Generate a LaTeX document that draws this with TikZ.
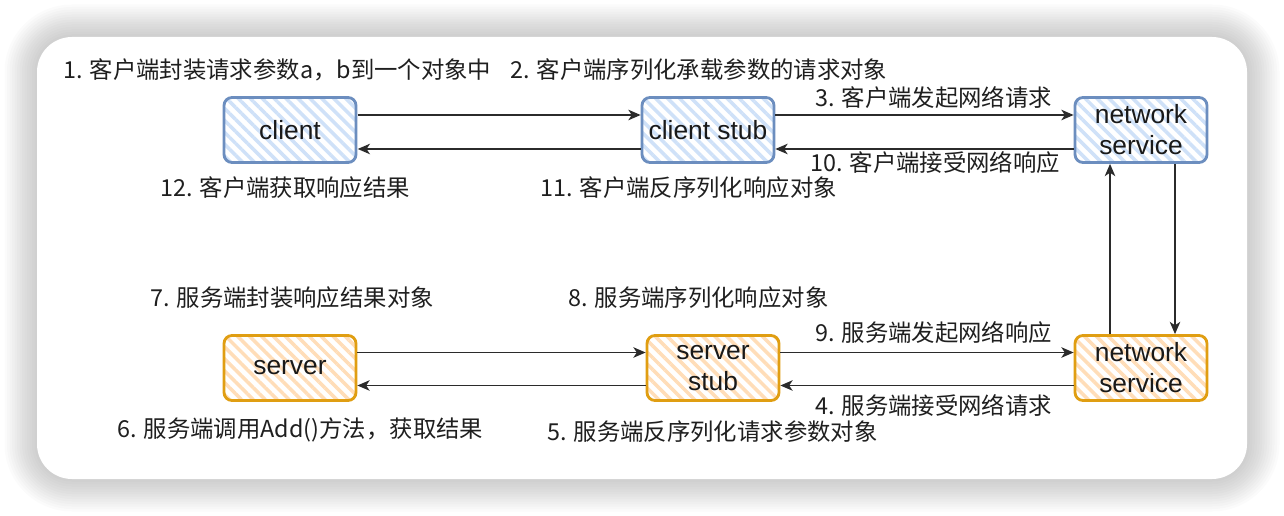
\documentclass[tikz,border=0pt]{standalone}
\usepackage{fontspec}
\setmainfont{Liberation Sans}
\newfontfamily\cjk{Noto Sans CJK SC}
\usetikzlibrary{patterns.meta,arrows.meta}

\definecolor{cliline}{HTML}{6C8EBF}
\definecolor{clifill}{HTML}{CFE1F8}
\definecolor{srvline}{HTML}{E09E12}
\definecolor{srvfill}{HTML}{FFDDB8}
\definecolor{arrcol}{HTML}{2B2B2B}

\tikzset{
  box/.style={rounded corners=0.16cm, line width=1.6pt, minimum width=2.64cm,
    minimum height=1.3cm, align=center, font=\fontsize{15}{17.6}\selectfont,
    text=black!90, inner sep=0pt},
  clibox/.style={box, draw=cliline,
    pattern={Lines[angle=-45,distance=4.8pt,line width=2pt]}, pattern color=clifill},
  srvbox/.style={box, draw=srvline,
    pattern={Lines[angle=-45,distance=4.8pt,line width=2pt]}, pattern color=srvfill},
  arr/.style={draw=arrcol, line width=0.7pt, -{Stealth[length=7pt,width=6pt,inset=2pt]}},
  lbl/.style={anchor=west, inner sep=0pt, font=\cjk\fontsize{13.3}{14}\selectfont, text=black!88}
}

\begin{document}
\begin{tikzpicture}[x=0.02cm, y=-0.02cm]
  \useasboundingbox (0,0) rectangle (1284,516);

  % soft shadow round the card
  \foreach \i in {0,...,13}
    \fill[black, opacity=0.014, rounded corners={(0.7+0.05*\i)*1cm}]
      ({37-2.5*\i},{37-2.5*\i}) rectangle ({1247+2.5*\i},{479+2.5*\i});
  \fill[white, rounded corners=0.7cm] (37,37) rectangle (1247,479);

  % top row: client side
  \node[clibox] (client) at (290,130) {client};
  \node[clibox] (cstub)  at (708,130) {client stub};
  \node[clibox] (cnet)   at (1141,130) {network\\service};

  % bottom row: server side
  \node[srvbox] (server) at (290,368) {server};
  \node[srvbox] (sstub)  at (713,368) {server\\stub};
  \node[srvbox] (snet)   at (1141,368) {network\\service};

  % client calls
  \draw[arr] ([yshift=0.3cm]client.east) -- ([yshift=0.3cm]cstub.west);
  \draw[arr] ([yshift=-0.38cm]cstub.west) -- ([yshift=-0.38cm]client.east);
  \draw[arr] ([yshift=0.3cm]cstub.east) -- ([yshift=0.3cm]cnet.west);
  \draw[arr] ([yshift=-0.38cm]cnet.west) -- ([yshift=-0.38cm]cstub.east);

  % across the network
  \draw[arr] ([xshift=-0.62cm]snet.north) -- ([xshift=-0.62cm]cnet.south);
  \draw[arr] ([xshift=0.68cm]cnet.south) -- ([xshift=0.68cm]snet.north);

  % server calls
  \draw[arr] ([yshift=0.31cm]server.east) -- ([yshift=0.31cm]sstub.west);
  \draw[arr] ([yshift=-0.35cm]sstub.west) -- ([yshift=-0.35cm]server.east);
  \draw[arr] ([yshift=0.31cm]sstub.east) -- ([yshift=0.31cm]snet.west);
  \draw[arr] ([yshift=-0.35cm]snet.west) -- ([yshift=-0.35cm]sstub.east);

  % step labels
  \node[lbl] (l1)  at (63,70)   {1. 客户端封装请求参数a，b到一个对象中};
  \node[lbl] (l2)  at (510,70)  {2. 客户端序列化承载参数的请求对象};
  \node[lbl] (l3)  at (815,98)  {3. 客户端发起网络请求};
  \node[lbl] (l10) at (810,163) {10. 客户端接受网络响应};
  \node[lbl] (l12) at (160,188) {12. 客户端获取响应结果};
  \node[lbl] (l11) at (540,188) {11. 客户端反序列化响应对象};
  \node[lbl] (l7)  at (150,298) {7. 服务端封装响应结果对象};
  \node[lbl] (l8)  at (568,298) {8. 服务端序列化响应对象};
  \node[lbl] (l9)  at (815,333) {9. 服务端发起网络响应};
  \node[lbl] (l4)  at (815,405) {4. 服务端接受网络请求};
  \node[lbl] (l6)  at (117,430) {6. 服务端调用Add()方法，获取结果};
  \node[lbl] (l5)  at (547,432) {5. 服务端反序列化请求参数对象};
\end{tikzpicture}
\end{document}
